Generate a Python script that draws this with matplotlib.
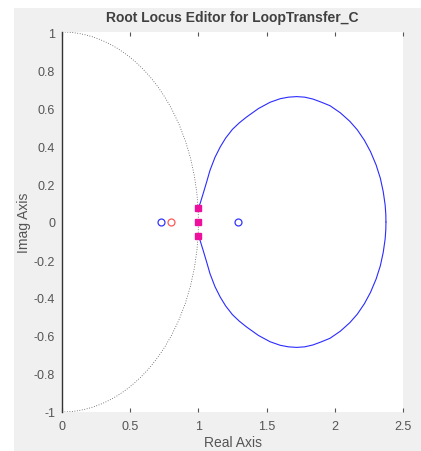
import numpy as np
import matplotlib.pyplot as plt
from matplotlib.patches import Arc, Rectangle

plt.rcParams["axes.unicode_minus"] = False
plt.rcParams["font.family"] = ["Liberation Sans", "DejaVu Sans"]

# ramo superior do lugar das raizes, o inferior e o espelho
locus_x = [0.995, 1.012, 1.036, 1.061, 1.085, 1.122, 1.16, 1.20, 1.25, 1.30, 1.354,
           1.44, 1.525, 1.60, 1.66, 1.72, 1.78, 1.84, 1.90, 1.965, 2.04, 2.11,
           2.165, 2.217, 2.262, 2.303, 2.334, 2.355, 2.369, 2.374, 2.375]
locus_y = [0.072, 0.096, 0.152, 0.212, 0.272, 0.341, 0.395, 0.442, 0.488, 0.522, 0.553,
           0.597, 0.630, 0.649, 0.657, 0.66, 0.657, 0.647, 0.631, 0.612, 0.575, 0.53,
           0.485, 0.43, 0.37, 0.30, 0.23, 0.16, 0.09, 0.04, 0.0]

polos_re = [1.0, 1.0, 1.0]
polos_im = [0.072, 0.0, -0.072]

zeros_azul = [0.726, 1.29]
zeros_verm = [0.80]

xticks = [0, 0.5, 1, 1.5, 2, 2.5]
xlabels = ["0", "0.5", "1", "1.5", "2", "2.5"]
yticks = [1, 0.8, 0.6, 0.4, 0.2, 0, -0.2, -0.4, -0.6, -0.8, -1]
ylabels = ["1", "0.8", "0.6", "0.4", "0.2", "0", "-0.2", "-0.4", "-0.6", "-0.8", "-1"]

fig = plt.figure(figsize=(4.21, 4.52), dpi=100)
fig.patch.set_facecolor("white")
fig.patches.append(Rectangle((14 / 421, 0), 1, 443 / 452, transform=fig.transFigure,
                             facecolor="#f0f0f0", edgecolor="none", zorder=-1))

ax = fig.add_axes([62 / 421, 39 / 452, 341 / 421, 380 / 452])
ax.set_facecolor("white")

# circulo unitario pontilhado
ax.add_patch(Arc((0, 0), 2, 2, theta1=-90, theta2=90, color="#555555",
                 linestyle=(0, (1, 2)), linewidth=0.6))

lx = np.array(locus_x)
ly = np.array(locus_y)
ax.plot(lx, ly, color="#2b2bff", linewidth=0.8)
ax.plot(lx, -ly, color="#2b2bff", linewidth=0.8)

ax.plot(polos_re, polos_im, "s", color="#ee109c", markersize=4, linestyle="none")
ax.plot(zeros_azul, [0] * len(zeros_azul), "o", mfc="none", mec="#3434ff",
        markersize=5, mew=0.9, linestyle="none")
ax.plot(zeros_verm, [0] * len(zeros_verm), "o", mfc="none", mec="#ff5a5a",
        markersize=5, mew=0.9, linestyle="none")

ax.set_xlim(0, 2.5)
ax.set_ylim(-1, 1)
ax.set_xticks(xticks)
ax.set_xticklabels(xlabels)
ax.set_yticks(yticks)
ax.set_yticklabels(ylabels)

for s in ["top", "right", "bottom"]:
    ax.spines[s].set_visible(False)
ax.spines["left"].set_color("#333333")
ax.spines["left"].set_linewidth(1.0)

ax.tick_params(axis="x", direction="in", length=3, color="#555555", labelcolor="#555555",
               labelsize=9, top=True, pad=6)
ax.tick_params(axis="y", direction="in", length=0, labelcolor="#555555", labelsize=9, pad=5)

ax.set_xlabel("Real Axis", color="#555555", fontsize=10, labelpad=2)
ax.set_ylabel("Imag Axis", color="#555555", fontsize=10, labelpad=2)
ax.set_title("Root Locus Editor for LoopTransfer_C", color="#404040", fontsize=10,
             fontweight="bold", pad=8)

plt.savefig("out.png", dpi=100)
